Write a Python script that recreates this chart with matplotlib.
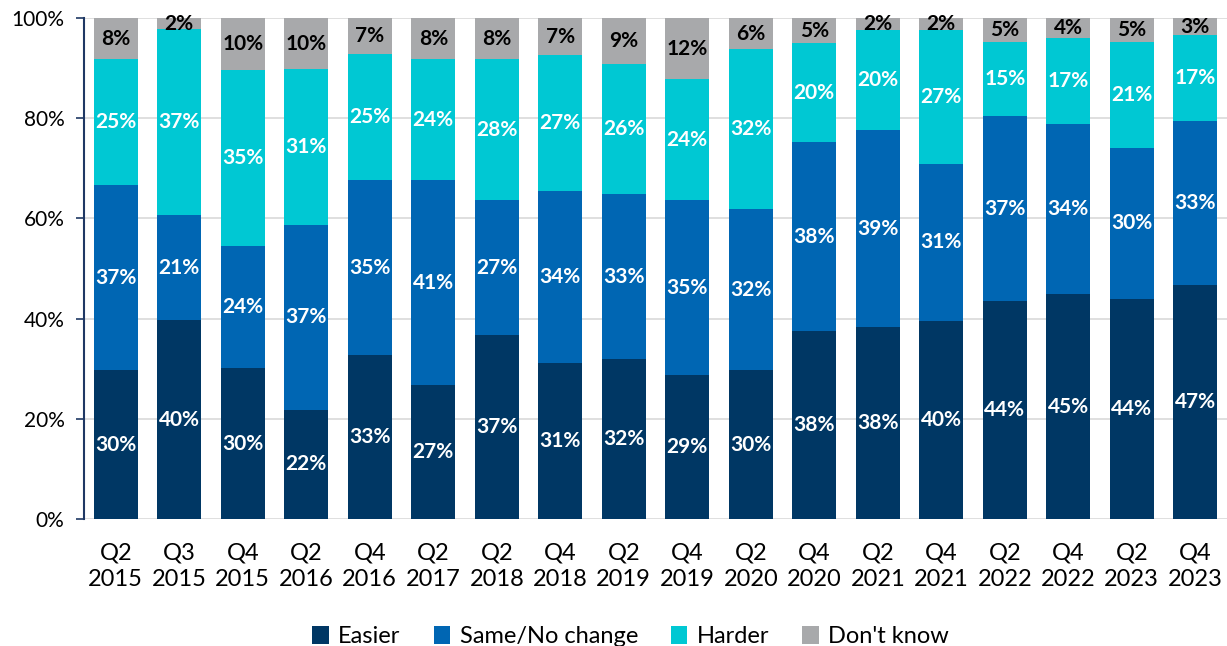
import numpy as np
import matplotlib
matplotlib.use('Agg')
import matplotlib.pyplot as plt

# Survey periods
periods = ["Q2\n2015", "Q3\n2015", "Q4\n2015", "Q2\n2016", "Q4\n2016", "Q2\n2017",
           "Q2\n2018", "Q4\n2018", "Q2\n2019", "Q4\n2019", "Q2\n2020", "Q4\n2020",
           "Q2\n2021", "Q4\n2021", "Q2\n2022", "Q4\n2022", "Q2\n2023", "Q4\n2023"]

# Shares (%)
easier = [29.7, 39.7, 30.1, 21.8, 32.7, 26.7, 36.7, 31.1, 31.9, 28.7, 29.7, 37.5,
          38.3, 39.5, 43.5, 44.9, 43.9, 46.7]
same = [37.0, 21.0, 24.4, 36.9, 35.0, 41.0, 27.0, 34.4, 33.0, 35.0, 32.2, 37.7,
        39.3, 31.4, 36.9, 33.9, 30.2, 32.7]
harder = [25.1, 37.1, 35.1, 31.1, 25.1, 24.1, 28.1, 27.1, 25.9, 24.1, 31.9, 19.8,
          20.0, 26.7, 14.8, 17.2, 21.1, 17.2]
dont_know = [8.2, 2.2, 10.4, 10.2, 7.2, 8.2, 8.2, 7.4, 9.2, 12.2, 6.2, 5.0,
             2.4, 2.4, 4.8, 4.0, 4.8, 3.4]

series_names = ["Easier", "Same/No change", "Harder", "Don't know"]
colors = ["#003764", "#0066B3", "#00C8D3", "#A8A9AB"]
label_colors = ["white", "white", "white", "black"]

plt.rcParams['font.family'] = ['Lato', 'DejaVu Sans']

fig = plt.figure(figsize=(12.27, 6.46), dpi=100)
ax = fig.add_axes([0.0685, 0.1966, 0.9315, 0.7754])

x = np.arange(len(periods))
bottom = np.zeros(len(periods))
for vals, name, col, lc in zip([easier, same, harder, dont_know], series_names, colors, label_colors):
    vals = np.array(vals)
    ax.bar(x, vals, 0.69, bottom=bottom, color=col, label=name, zorder=2)
    for xi, b, v in zip(x, bottom, vals):
        ax.text(xi, b + v / 2, f"{round(v):.0f}%", ha='center', va='center',
                color=lc, fontsize=15, fontweight='bold', zorder=3, clip_on=False)
    bottom += vals

ax.set_xlim(-0.5, len(periods) - 0.5)
ax.set_ylim(0, 100)
ax.set_yticks(np.arange(0, 101, 20))
ax.set_yticklabels([f"{v}%" for v in range(0, 101, 20)], fontsize=15)
ax.set_xticks(x)
ax.set_xticklabels(periods, fontsize=17, linespacing=1.3)
ax.tick_params(axis='x', length=0, pad=17)
ax.tick_params(axis='y', length=6, width=1.2, color="#1F3864", pad=8)

ax.grid(axis='y', color="#D9D9D9", linewidth=1.2, zorder=0)
for s in ['top', 'right', 'bottom']:
    ax.spines[s].set_visible(False)
ax.spines['left'].set_color("#1F3864")
ax.spines['left'].set_linewidth(1.5)

fig.legend(loc='lower center', bbox_to_anchor=(0.514, -0.035), ncol=4, frameon=False,
           fontsize=17, handlelength=0.7, handleheight=0.8, handletextpad=0.4,
           columnspacing=1.4)

fig.savefig("out.png", dpi=100)
